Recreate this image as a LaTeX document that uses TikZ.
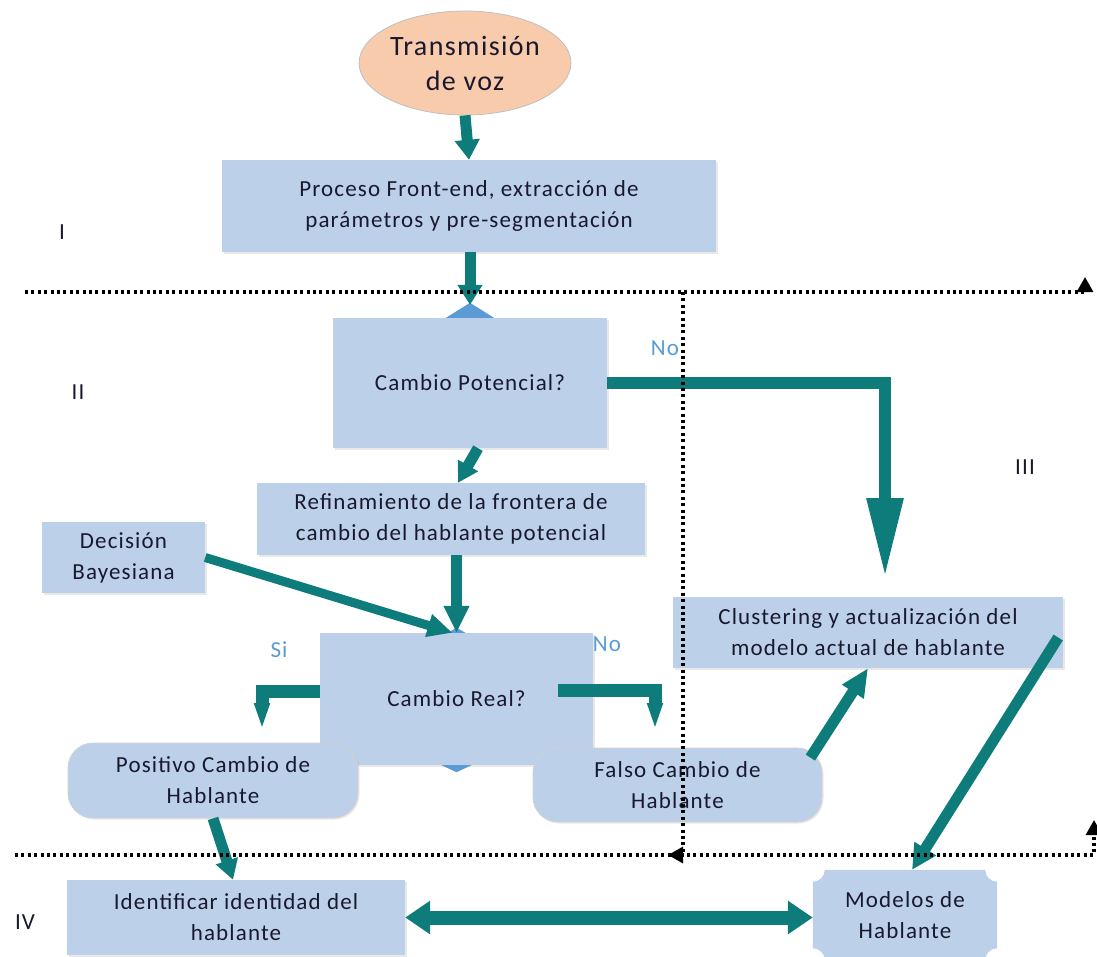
\documentclass[tikz,border=0pt]{standalone}
\usepackage{fontspec}
\setmainfont{Carlito}[LetterSpace=5]
\usetikzlibrary{arrows.meta,shadows,calc,backgrounds,shapes.geometric}

\definecolor{boxfill}{RGB}{189,208,233}
\definecolor{vozfill}{RGB}{248,203,173}
\definecolor{flowteal}{RGB}{14,124,123}
\definecolor{tipblue}{RGB}{91,155,213}
\definecolor{inkc}{RGB}{25,25,45}

\newcommand\diagfont{\fontsize{23}{31}\selectfont}
\newcommand\bigdiagfont{\fontsize{28}{35}\selectfont}

\tikzset{
  box/.style={fill=boxfill, draw=none, text=inkc, align=center, font=\diagfont,
    inner sep=0pt, drop shadow={shadow xshift=1.5pt, shadow yshift=-1.5pt, opacity=0.18}},
  roundbox/.style={box, rounded corners=25pt, draw=black!18, line width=0.8pt},
  flow/.style={draw=flowteal, line width=11pt, line join=miter,
    -{Triangle[length=20pt,width=24pt]}},
  dotline/.style={draw=black, line width=3.2pt, dash pattern=on 3pt off 3.4pt,
    -{Triangle[length=15pt,width=16pt]}},
  lab/.style={font=\diagfont, text=tipblue, inner sep=0pt},
  zone/.style={font=\diagfont, text=inkc, inner sep=0pt}
}

\begin{document}
\begin{tikzpicture}[x=1pt,y=-1pt]
\useasboundingbox (0,0) rectangle (1097,956);

% ---- nodes ----
\node[ellipse, fill=vozfill, draw=black!25, line width=0.8pt, minimum width=174pt,
      minimum height=104pt, inner sep=0pt, align=center, font=\bigdiagfont, text=inkc]
      (voz) at (465,63) {Transmisión\\de voz};
\node[box, minimum width=494pt, minimum height=92pt] (front) at (469,206)
      {Proceso Front-end, extracción de\\parámetros y pre-segmentación};

% decision diamond tips behind the boxes
\node[box, minimum width=274pt, minimum height=130pt] (pot) at (470,383) {Cambio Potencial?};
\fill[tipblue] ($(pot.north)+(-24,0)$) -- ($(pot.north)+(0,-15)$) -- ($(pot.north)+(24,0)$) -- cycle;

\node[box, minimum width=388pt, minimum height=72pt] (ref) at (451,519)
      {Refinamiento de la frontera de\\cambio del hablante potencial};
\node[box, minimum width=163pt, minimum height=71pt] (bayes) at (123.5,557.5)
      {Decisión\\Bayesiana};

\node[box, minimum width=273pt, minimum height=132pt] (real) at (456.5,699) {Cambio Real?};
\fill[tipblue] ($(real.north)+(-9,0)$) -- ($(real.north)+(0,-5)$) -- ($(real.north)+(9,0)$) -- cycle;
\fill[tipblue] ($(real.south)+(-15,0)$) -- ($(real.south)+(0,7)$) -- ($(real.south)+(15,0)$) -- cycle;

\node[roundbox, minimum width=290pt, minimum height=75pt] (pos) at (213,780.5)
      {Positivo Cambio de\\Hablante};
\node[roundbox, minimum width=289pt, minimum height=74pt] (falso) at (677.5,785)
      {Falso Cambio de\\Hablante};
\node[box, minimum width=390pt, minimum height=71pt] (clus) at (868,632.5)
      {Clustering y actualización del\\modelo actual de hablante};
\node[box, minimum width=338pt, minimum height=75pt] (ident) at (236,917.5)
      {Identificar identidad del\\hablante};
\node[inner sep=0pt, minimum width=184pt, minimum height=90pt, align=center,
      font=\diagfont, text=inkc] (model) at (905,915) {Modelos de\\Hablante};
\begin{pgfonlayer}{background}
  \fill[boxfill] ($(model.north west)+(12,0)$) -- ($(model.north east)+(-12,0)$)
    arc[start angle=180, end angle=90, radius=12]
    -- ($(model.south east)+(0,-12)$) arc[start angle=270, end angle=180, radius=12]
    -- ($(model.south west)+(12,0)$) arc[start angle=0, end angle=-90, radius=12]
    -- ($(model.north west)+(0,12)$) arc[start angle=90, end angle=0, radius=12]
    -- cycle;
\end{pgfonlayer}

% ---- free ends of the connectors ----
\coordinate (pottip) at ($(pot.north)+(0,-13)$);
\coordinate (notip) at (885,578);
\coordinate (sitip) at (262,730);
\coordinate (nrtip) at (655,730);

% ---- connectors ----
\draw[flow] (voz.south) -- (front.north);
\draw[flow] (front.south -| pottip) -- (pottip);
\draw[flow, line width=12pt, -{Triangle[length=80pt,width=34pt]}]
      (pot.east) -| (notip);
\draw[flow, -{Triangle[length=20pt,width=22pt]}] ($(pot.south)+(8,0)$) -- ($(ref.north)+(7,0)$);
\draw[flow, -{Triangle[length=27pt,width=24pt]}] (real.north |- ref.south) -- (real.north);
\draw[flow, line width=9pt, -{Triangle[length=25pt,width=22pt]}]
      (bayes.east) -- ($(real.north)+(-4,0)$);
\draw[flow, line width=13pt, -{Triangle[length=27pt,width=14pt]}]
      ($(real.west)+(0,-8)$) -| (sitip);
\draw[flow, line width=13pt, -{Triangle[length=27pt,width=14pt]}]
      ($(real.east)+(-35,-9)$) -| (nrtip);
\draw[flow, -{Triangle[length=20pt,width=22pt]}] (pos.south) -- ($(ident.north)+(-3,0)$);
\draw[flow, -{Triangle[length=28pt,width=24pt]}]
      ($(falso.north east)+(-12,10)$) -- (clus.south);
\draw[flow, -{Triangle[length=25pt,width=24pt]}]
      ($(clus.east)+(-5,5)$) -- ($(model.north)+(7,0)$);
\draw[flow, line width=14pt, {Triangle[length=25pt,width=32pt]}-{Triangle[length=25pt,width=32pt]}]
      (ident.east) -- (ident.east -| model.west);

% ---- zone separators ----
\draw[dotline] (25,292) -| (1085,277);
\draw[dotline] (683,292) |- (668,855);
\draw[dotline] (15,855) -| (1094,820);

% ---- labels ----
\node[lab] at (665,348) {No};
\node[lab] at (279,650) {Si};
\node[lab] at (607,644) {No};
\node[zone] at (62,232) {I};
\node[zone] at (78,392) {II};
\node[zone] at (1025,467) {III};
\node[zone] at (25,922) {IV};
\end{tikzpicture}
\end{document}
